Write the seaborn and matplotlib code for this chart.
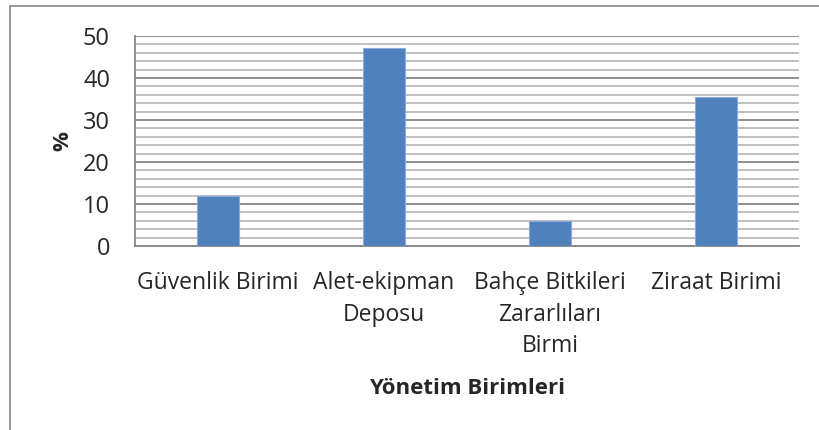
import matplotlib
matplotlib.use("Agg")
import matplotlib.pyplot as plt
from matplotlib.lines import Line2D
from matplotlib.ticker import MultipleLocator
import seaborn as sb
import pandas as pd

birimler = ["Güvenlik Birimi", "Alet-ekipman\nDeposu", "Bahçe Bitkileri\nZararlıları\nBirmi", "Ziraat Birimi"]
yuzde = [11.9, 47.1, 5.9, 35.4]

df = pd.DataFrame({"birim": birimler, "yuzde": yuzde})

sb.set_style("white")
plt.rcParams['font.family'] = ['Open Sans', 'DejaVu Sans']

fig = plt.figure(figsize=(8.2, 4.3), dpi=100)
ax = fig.add_axes([135 / 820, 1 - 246 / 430, 664 / 820, 210 / 430])

sb.barplot(data=df, x="birim", y="yuzde", color="#4F81BD", width=0.25,
           edgecolor="#8EAADB", linewidth=0.8, saturation=1, ax=ax, zorder=3)

ax.set_ylim(0, 50)
ax.set_xlim(-0.5, 3.5)
ax.yaxis.set_major_locator(MultipleLocator(10))
ax.yaxis.set_minor_locator(MultipleLocator(2))
ax.grid(which="major", axis="y", color="#868686", lw=1.3, zorder=0)
ax.grid(which="minor", axis="y", color="#BBBBBB", lw=1.3, zorder=0)
ax.set_axisbelow(True)

for s in ["top", "right"]:
    ax.spines[s].set_visible(False)
for s in ["left", "bottom"]:
    ax.spines[s].set_color("#868686")
    ax.spines[s].set_linewidth(1.3)

ax.tick_params(axis="y", which="major", direction="out", length=6, width=1.2,
               color="#868686", pad=12, labelsize=17)
ax.tick_params(axis="y", which="minor", length=0)
ax.tick_params(axis="x", length=0, pad=18, labelsize=16.5)
for lab in ax.get_xticklabels():
    lab.set_linespacing(1.42)

ax.set_xlabel("Yönetim Birimleri", fontsize=16, fontweight="bold", labelpad=14)
ax.set_ylabel("%", fontsize=16, fontweight="bold", labelpad=7)

# outer chart frame
fig.add_artist(Line2D([10 / 820, 10 / 820, 1], [0, 1 - 6 / 430, 1 - 6 / 430],
                      transform=fig.transFigure, color="#868686", lw=1.2))

fig.savefig("out.png", dpi=100)
